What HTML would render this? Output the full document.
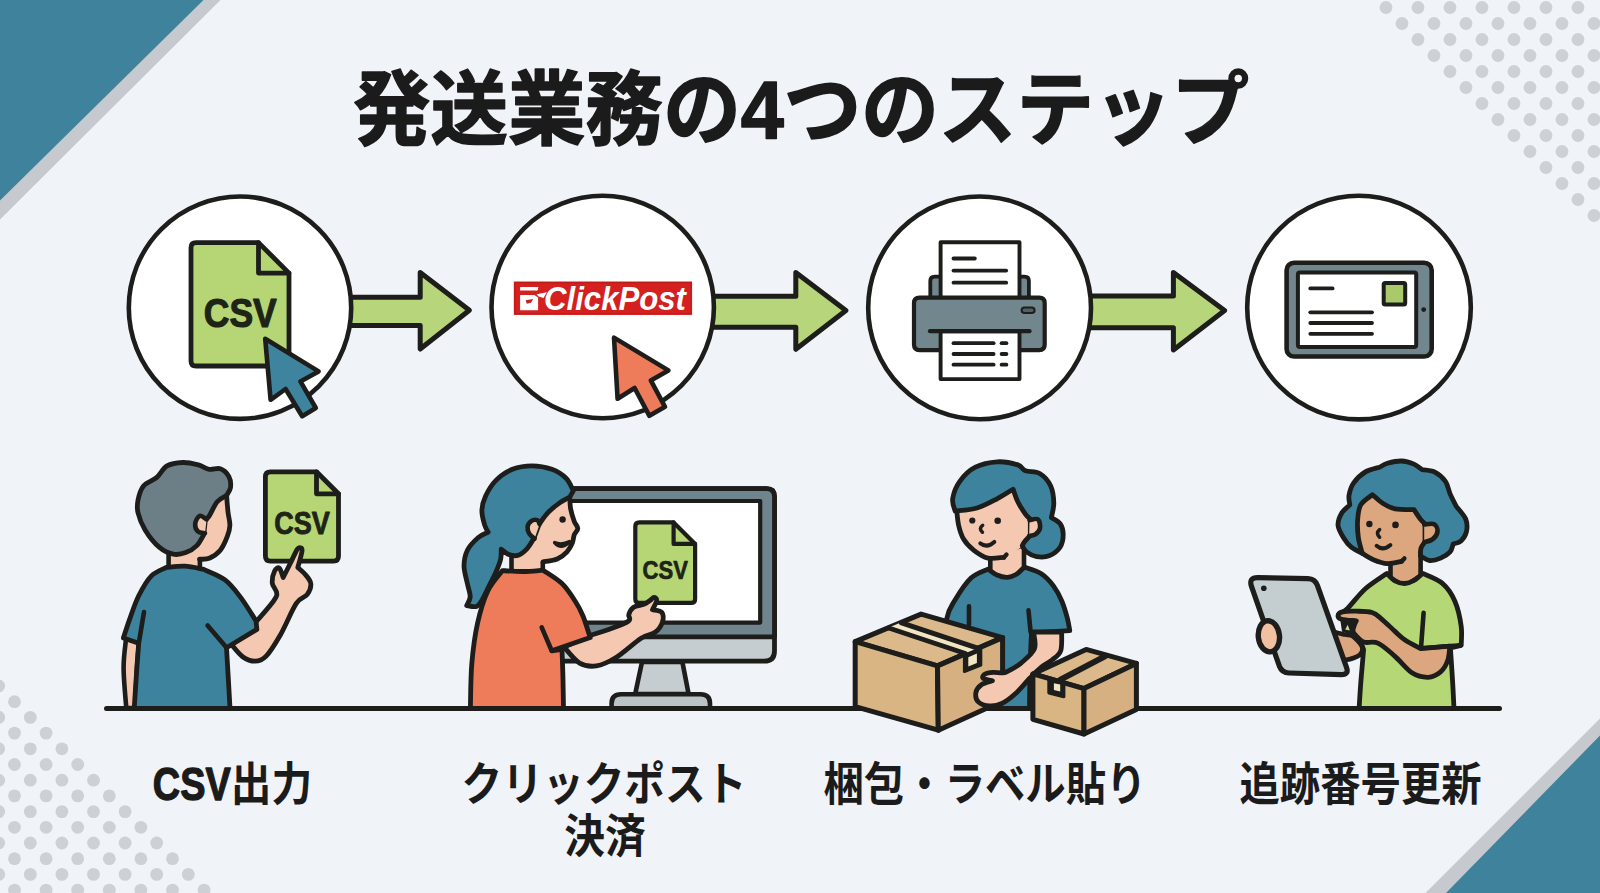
<!DOCTYPE html>
<html lang="ja">
<head>
<meta charset="utf-8">
<title>発送業務の4つのステップ</title>
<style>
html,body{margin:0;padding:0;width:1600px;height:893px;overflow:hidden;background:#f0f3f8}
svg{display:block}
.ttl{font-family:"Liberation Sans","Noto Sans CJK JP",sans-serif;font-weight:700}
.lbl{font-family:"Liberation Sans","Noto Sans CJK JP",sans-serif;font-weight:700}
.csv{font-family:"Liberation Sans","Noto Sans CJK JP",sans-serif;font-weight:700}
.cp{font-family:"Liberation Sans","Noto Sans CJK JP",sans-serif;font-weight:700;font-style:italic}
</style>
</head>
<body>
<svg width="1600" height="893" viewBox="0 0 1600 893">
<rect x="0" y="0" width="1600" height="893" fill="#f0f3f8"/>
<g id="corners"><polygon points="0,0 220.5,0 0,219.5" fill="#c6c9cd"/><polygon points="0,0 203.5,0 0,200.5" fill="#3f829c"/><polygon points="1600,893 1425.5,893 1600,718.5" fill="#c6c9cd"/><polygon points="1600,893 1446,893 1600,735.5" fill="#3f829c"/></g>
<g id="dots-tr" fill="#cdd1d5"><circle cx="1386.0" cy="7.5" r="6.4"/><circle cx="1418.0" cy="7.5" r="6.4"/><circle cx="1450.0" cy="7.5" r="6.4"/><circle cx="1482.0" cy="7.5" r="6.4"/><circle cx="1514.0" cy="7.5" r="6.4"/><circle cx="1546.0" cy="7.5" r="6.4"/><circle cx="1578.0" cy="7.5" r="6.4"/><circle cx="1402.0" cy="23.5" r="6.4"/><circle cx="1434.0" cy="23.5" r="6.4"/><circle cx="1466.0" cy="23.5" r="6.4"/><circle cx="1498.0" cy="23.5" r="6.4"/><circle cx="1530.0" cy="23.5" r="6.4"/><circle cx="1562.0" cy="23.5" r="6.4"/><circle cx="1594.0" cy="23.5" r="6.4"/><circle cx="1418.0" cy="39.5" r="6.4"/><circle cx="1450.0" cy="39.5" r="6.4"/><circle cx="1482.0" cy="39.5" r="6.4"/><circle cx="1514.0" cy="39.5" r="6.4"/><circle cx="1546.0" cy="39.5" r="6.4"/><circle cx="1578.0" cy="39.5" r="6.4"/><circle cx="1434.0" cy="55.5" r="6.4"/><circle cx="1466.0" cy="55.5" r="6.4"/><circle cx="1498.0" cy="55.5" r="6.4"/><circle cx="1530.0" cy="55.5" r="6.4"/><circle cx="1562.0" cy="55.5" r="6.4"/><circle cx="1594.0" cy="55.5" r="6.4"/><circle cx="1450.0" cy="71.5" r="6.4"/><circle cx="1482.0" cy="71.5" r="6.4"/><circle cx="1514.0" cy="71.5" r="6.4"/><circle cx="1546.0" cy="71.5" r="6.4"/><circle cx="1578.0" cy="71.5" r="6.4"/><circle cx="1466.0" cy="87.5" r="6.4"/><circle cx="1498.0" cy="87.5" r="6.4"/><circle cx="1530.0" cy="87.5" r="6.4"/><circle cx="1562.0" cy="87.5" r="6.4"/><circle cx="1594.0" cy="87.5" r="6.4"/><circle cx="1482.0" cy="103.5" r="6.4"/><circle cx="1514.0" cy="103.5" r="6.4"/><circle cx="1546.0" cy="103.5" r="6.4"/><circle cx="1578.0" cy="103.5" r="6.4"/><circle cx="1498.0" cy="119.5" r="6.4"/><circle cx="1530.0" cy="119.5" r="6.4"/><circle cx="1562.0" cy="119.5" r="6.4"/><circle cx="1594.0" cy="119.5" r="6.4"/><circle cx="1514.0" cy="135.5" r="6.4"/><circle cx="1546.0" cy="135.5" r="6.4"/><circle cx="1578.0" cy="135.5" r="6.4"/><circle cx="1530.0" cy="151.5" r="6.4"/><circle cx="1562.0" cy="151.5" r="6.4"/><circle cx="1594.0" cy="151.5" r="6.4"/><circle cx="1546.0" cy="167.5" r="6.4"/><circle cx="1578.0" cy="167.5" r="6.4"/><circle cx="1562.0" cy="183.5" r="6.4"/><circle cx="1594.0" cy="183.5" r="6.4"/><circle cx="1578.0" cy="199.5" r="6.4"/><circle cx="1594.0" cy="215.5" r="6.4"/></g>
<g id="dots-bl" fill="#cdd1d5"><circle cx="-1.3" cy="686.0" r="6.4"/><circle cx="14.5" cy="701.7" r="6.4"/><circle cx="30.3" cy="717.4" r="6.4"/><circle cx="-1.3" cy="717.4" r="6.4"/><circle cx="46.1" cy="733.1" r="6.4"/><circle cx="14.5" cy="733.1" r="6.4"/><circle cx="61.9" cy="748.8" r="6.4"/><circle cx="30.3" cy="748.8" r="6.4"/><circle cx="-1.3" cy="748.8" r="6.4"/><circle cx="77.7" cy="764.5" r="6.4"/><circle cx="46.1" cy="764.5" r="6.4"/><circle cx="14.5" cy="764.5" r="6.4"/><circle cx="93.5" cy="780.2" r="6.4"/><circle cx="61.9" cy="780.2" r="6.4"/><circle cx="30.3" cy="780.2" r="6.4"/><circle cx="-1.3" cy="780.2" r="6.4"/><circle cx="109.3" cy="795.9" r="6.4"/><circle cx="77.7" cy="795.9" r="6.4"/><circle cx="46.1" cy="795.9" r="6.4"/><circle cx="14.5" cy="795.9" r="6.4"/><circle cx="125.1" cy="811.6" r="6.4"/><circle cx="93.5" cy="811.6" r="6.4"/><circle cx="61.9" cy="811.6" r="6.4"/><circle cx="30.3" cy="811.6" r="6.4"/><circle cx="-1.3" cy="811.6" r="6.4"/><circle cx="140.9" cy="827.3" r="6.4"/><circle cx="109.3" cy="827.3" r="6.4"/><circle cx="77.7" cy="827.3" r="6.4"/><circle cx="46.1" cy="827.3" r="6.4"/><circle cx="14.5" cy="827.3" r="6.4"/><circle cx="156.7" cy="843.0" r="6.4"/><circle cx="125.1" cy="843.0" r="6.4"/><circle cx="93.5" cy="843.0" r="6.4"/><circle cx="61.9" cy="843.0" r="6.4"/><circle cx="30.3" cy="843.0" r="6.4"/><circle cx="-1.3" cy="843.0" r="6.4"/><circle cx="172.5" cy="858.7" r="6.4"/><circle cx="140.9" cy="858.7" r="6.4"/><circle cx="109.3" cy="858.7" r="6.4"/><circle cx="77.7" cy="858.7" r="6.4"/><circle cx="46.1" cy="858.7" r="6.4"/><circle cx="14.5" cy="858.7" r="6.4"/><circle cx="188.3" cy="874.4" r="6.4"/><circle cx="156.7" cy="874.4" r="6.4"/><circle cx="125.1" cy="874.4" r="6.4"/><circle cx="93.5" cy="874.4" r="6.4"/><circle cx="61.9" cy="874.4" r="6.4"/><circle cx="30.3" cy="874.4" r="6.4"/><circle cx="-1.3" cy="874.4" r="6.4"/><circle cx="204.1" cy="890.1" r="6.4"/><circle cx="172.5" cy="890.1" r="6.4"/><circle cx="140.9" cy="890.1" r="6.4"/><circle cx="109.3" cy="890.1" r="6.4"/><circle cx="77.7" cy="890.1" r="6.4"/><circle cx="46.1" cy="890.1" r="6.4"/><circle cx="14.5" cy="890.1" r="6.4"/></g>
<text id="title" class="ttl" x="353" y="137.5" font-size="81" fill="#1b1b1b" stroke="#1b1b1b" stroke-width="1.5" stroke-linejoin="round" textLength="896" lengthAdjust="spacingAndGlyphs">発送業務の4つのステップ</text>
<g id="arrows">
<path d="M345,297.2 H420.2 V272.6 L469.4,310.3 L420.2,349 V325.5 H345 Z" fill="#b7d57a" stroke="#1d1d1b" stroke-width="5" stroke-linejoin="round" stroke-linecap="round" />
<path d="M708,296.2 H795.8 V272.4 L845.9,310.5 L795.8,349.3 V327.2 H708 Z" fill="#b7d57a" stroke="#1d1d1b" stroke-width="5" stroke-linejoin="round" stroke-linecap="round" />
<path d="M1086,296 H1173.4 V272.4 L1224.6,310.5 L1173.4,349.9 V327.7 H1086 Z" fill="#b7d57a" stroke="#1d1d1b" stroke-width="5" stroke-linejoin="round" stroke-linecap="round" />
</g>
<g id="circles" fill="#ffffff" stroke="#1d1d1b" stroke-width="4.6"><circle cx="240" cy="307.7" r="111.2"/><circle cx="602.7" cy="307" r="111.2"/><circle cx="979.6" cy="307.9" r="111.4"/><circle cx="1359" cy="307.6" r="111.8"/></g>
<g id="icon1">
<path d="M196,242.6 H258.5 L289,273.1 V361 Q289,366 284,366 H196 Q191,366 191,361 V247.6 Q191,242.6 196,242.6 Z" fill="#b6d675" stroke="#1d1d1b" stroke-width="4.8" stroke-linejoin="round" stroke-linecap="round" />
<path d="M258.5,242.6 V273.1 H289" fill="none" stroke="#1d1d1b" stroke-width="4.8" stroke-linejoin="round" stroke-linecap="round" />
<text class="csv" x="203.8" y="327" font-size="41.5"  fill="#1e2416" stroke="#1e2416" stroke-width="1.16" stroke-linejoin="round" textLength="73" lengthAdjust="spacingAndGlyphs">CSV</text>
<path d="M265.2,338.8 L270.6,399.8 L285.6,389 L302.2,416.2 L315.8,408 L300.4,381.4 L318.6,371.4 Z" fill="#3e849f" stroke="#1d1d1b" stroke-width="4.6" stroke-linejoin="round" stroke-linecap="round" />
</g>
<g id="icon2">
<rect x="513.8" y="281.5" width="178.3" height="33.4" fill="#d4201f"/>
<rect x="515" y="282.7" width="175.9" height="31" fill="none" stroke="#c01a1a" stroke-width="1.2"/>
<g fill="#ffffff"><path d="M520.1,287 H538.4 L537.6,290.6 H520.1 Z"/><path d="M520.1,295.1 H534.4 L538.1,297.6 V310.3 H520.1 Z"/><path d="M536.6,294.3 L546.8,292.2 L543.6,298 L538.6,296.6 Z"/></g>
<path d="M525.6,300.2 L533.2,299 L531,302.8 L526.8,303.8 Z" fill="#c4231e"/>
<text class="cp" x="544" y="310.4" font-size="32.5" fill="#ffffff" textLength="142" lengthAdjust="spacingAndGlyphs">ClickPost</text>
<path d="M614,337.6 L617.6,398.8 L634.6,388 L649.4,415.8 L665,406.8 L650.8,380.4 L668.4,370.4 Z" fill="#ee7b5a" stroke="#1d1d1b" stroke-width="4.6" stroke-linejoin="round" stroke-linecap="round" />
</g>
<g id="icon3">
<path d="M930.3,298 V281 Q930.3,276.6 934.7,276.6 H1024.5 Q1028.9,276.6 1028.9,281 V298 Z" fill="#72868e" stroke="#1d1d1b" stroke-width="3.8" stroke-linejoin="round" stroke-linecap="round" />
<path d="M940.6,298 V242.3 H1019.5 V298 Z" fill="#ffffff" stroke="#1d1d1b" stroke-width="3.9" stroke-linejoin="round" stroke-linecap="round" />
<path d="M953.5,258.5 L974.8,258.5" fill="none" stroke="#1d1d1b" stroke-width="3.8" stroke-linecap="round"/>
<path d="M953.5,270.6 L1006.2,270.6" fill="none" stroke="#1d1d1b" stroke-width="3.8" stroke-linecap="round"/>
<path d="M953.5,282.7 L1006.2,282.7" fill="none" stroke="#1d1d1b" stroke-width="3.8" stroke-linecap="round"/>
<path d="M919.5,297.6 H1039.2 Q1044.7,297.6 1044.7,303.1 V344.6 Q1044.7,350.1 1039.2,350.1 H919.5 Q914,350.1 914,344.6 V303.1 Q914,297.6 919.5,297.6 Z" fill="#72868e" stroke="#1d1d1b" stroke-width="4.2" stroke-linejoin="round" stroke-linecap="round" />
<path d="M940.6,331.2 V379.1 H1019.5 V331.2 Z" fill="#ffffff" stroke="#1d1d1b" stroke-width="3.9" stroke-linejoin="round" stroke-linecap="round" />
<path d="M930,331.2 L1029.5,331.2" fill="none" stroke="#1d1d1b" stroke-width="4.2" stroke-linecap="round"/>
<rect x="1021.6" y="307.4" width="13" height="5.6" rx="2.8" fill="#4f6168" stroke="#1d1d1b" stroke-width="2"/>
<path d="M953.5,343.2 L993.6,343.2" fill="none" stroke="#1d1d1b" stroke-width="3.8" stroke-linecap="round"/>
<path d="M1001.6,343.2 L1006.4,343.2" fill="none" stroke="#1d1d1b" stroke-width="3.8" stroke-linecap="round"/>
<path d="M953.5,354 L993.6,354" fill="none" stroke="#1d1d1b" stroke-width="3.8" stroke-linecap="round"/>
<path d="M1001.6,354 L1006.4,354" fill="none" stroke="#1d1d1b" stroke-width="3.8" stroke-linecap="round"/>
<path d="M953.5,364.7 L993.6,364.7" fill="none" stroke="#1d1d1b" stroke-width="3.8" stroke-linecap="round"/>
<path d="M1001.6,364.7 L1006.4,364.7" fill="none" stroke="#1d1d1b" stroke-width="3.8" stroke-linecap="round"/>
</g>
<g id="icon4">
<rect x="1286.6" y="262.7" width="145.1" height="93.8" rx="7.5" fill="#72868e" stroke="#1d1d1b" stroke-width="4.6"/>
<rect x="1297.9" y="272.6" width="118.3" height="74.5" rx="2" fill="#ffffff" stroke="#1d1d1b" stroke-width="4"/>
<circle cx="1423.7" cy="309.6" r="2.4" fill="#1d1d1b"/>
<rect x="1383.7" y="282.9" width="21.5" height="21.5" rx="1.5" fill="#a9c96b" stroke="#1d1d1b" stroke-width="4"/>
<path d="M1310.3,288.4 L1332.6,288.4" fill="none" stroke="#1d1d1b" stroke-width="3.8" stroke-linecap="round"/>
<path d="M1310.3,312.3 L1372,312.3" fill="none" stroke="#1d1d1b" stroke-width="3.8" stroke-linecap="round"/>
<path d="M1310.3,323 L1372,323" fill="none" stroke="#1d1d1b" stroke-width="3.8" stroke-linecap="round"/>
<path d="M1310.3,333.8 L1372,333.8" fill="none" stroke="#1d1d1b" stroke-width="3.8" stroke-linecap="round"/>
</g>
<g id="scene1">
<path d="M270.4,471.8 H316.5 L338.5,493.8 V556.1 Q338.5,561.1 333.5,561.1 H270.4 Q265.4,561.1 265.4,556.1 V476.8 Q265.4,471.8 270.4,471.8 Z" fill="#b6d675" stroke="#1d1d1b" stroke-width="4.8" stroke-linejoin="round" stroke-linecap="round" />
<path d="M316.5,471.8 V493.8 H338.5" fill="none" stroke="#1d1d1b" stroke-width="4.8" stroke-linejoin="round" stroke-linecap="round" />
<text class="csv" x="274.2" y="534.4" font-size="31.2"  fill="#1e2416" stroke="#1e2416" stroke-width="0.87" stroke-linejoin="round" textLength="55.6" lengthAdjust="spacingAndGlyphs">CSV</text>
<path d="M126.0,639.0 C125.6,643.8 123.5,656.5 123.6,668.0 C123.6,679.5 125.8,701.3 126.3,708.0 L135.0,708.0 C135.3,701.3 136.3,679.0 137.0,668.0 C137.7,657.0 138.7,646.3 139.0,642.0 L126.0,639.0 Z" fill="#f5c9b1" stroke="#1d1d1b" stroke-width="4.6" stroke-linejoin="round" stroke-linecap="round" />
<path d="M250.0,628.0 C252.0,625.8 257.6,620.4 262.0,615.0 C266.4,609.6 274.9,601.1 276.6,595.8 C278.3,590.5 272.6,587.4 272.3,583.3 C272.0,579.2 273.4,573.5 274.6,571.0 C275.8,568.5 277.9,567.1 279.3,568.2 C280.7,569.3 282.6,575.9 283.2,577.4 C284.4,575.0 288.2,567.7 290.5,563.0 C292.8,558.3 295.6,551.9 297.2,549.4 C298.8,546.9 299.4,547.5 300.2,547.8 C301.0,548.1 302.4,547.9 302.0,551.2 C301.6,554.5 298.5,564.8 297.8,567.5 C299.1,568.7 303.1,571.8 305.3,574.5 C307.5,577.2 310.5,580.3 310.8,583.6 C311.1,586.9 309.7,591.1 307.3,594.4 C304.9,597.7 300.8,596.6 296.3,603.4 C291.8,610.2 285.3,626.4 280.2,635.2 C275.1,644.0 270.1,652.1 265.9,656.4 C261.7,660.7 259.0,661.2 255.1,661.2 C251.2,661.2 246.6,659.6 242.6,656.7 C238.6,653.8 232.9,646.1 231.0,644.0 L250.0,628.0 Z" fill="#f5c9b1" stroke="#1d1d1b" stroke-width="4.8" stroke-linejoin="round" stroke-linecap="round" />
<path d="M168.6,545 V571 H199.9 V545 Z" fill="#f5c9b1" stroke="#1d1d1b" stroke-width="4.6" stroke-linejoin="round" stroke-linecap="round" />
<path d="M166.4,567.4 C163.9,568.9 155.8,571.4 151.2,576.1 C146.6,580.8 142.3,588.6 138.7,595.8 C135.1,603.0 132.2,612.1 129.7,619.1 C127.1,626.1 124.5,634.8 123.4,637.9 L138.7,643.3 C138.4,647.3 137.7,656.6 136.9,667.5 C136.2,678.4 134.6,701.7 134.2,708.5 L230.0,708.5 C229.7,703.2 228.8,686.6 228.2,676.5 C227.6,666.4 226.8,652.6 226.5,647.8 L256.9,629.4 L256.0,620.9 C253.5,617.0 246.0,604.5 240.8,597.6 C235.6,590.7 231.0,584.4 224.7,579.7 C218.4,575.0 206.8,571.0 203.2,569.2 C200.2,568.7 191.1,566.5 185.0,566.2 C178.9,565.9 169.5,567.2 166.4,567.4 Z" fill="#3e839e" stroke="#1d1d1b" stroke-width="4.8" stroke-linejoin="round" stroke-linecap="round" />
<path d="M144,612 L138.9,642.6" fill="none" stroke="#1d1d1b" stroke-width="4.6" stroke-linecap="round"/>
<path d="M207.6,625.4 L226,647" fill="none" stroke="#1d1d1b" stroke-width="4.6" stroke-linecap="round"/>
<path d="M226.6,495.4 C226.8,498.3 227.5,507.7 228.1,512.7 C228.7,517.7 230.0,521.3 229.9,525.2 C229.8,529.1 229.0,532.0 227.4,536.2 C225.8,540.4 223.3,546.6 220.3,550.3 C217.3,554.0 213.0,556.8 209.3,558.3 C205.6,559.8 199.9,559.1 198.0,559.2 C196.7,556.8 189.7,553.2 190.0,545.0 C190.3,536.8 193.9,518.3 200.0,510.0 C206.1,501.7 222.2,497.8 226.6,495.4 Z" fill="#f5c9b1" stroke="none" stroke-width="0" stroke-linejoin="round" stroke-linecap="round" />
<path d="M226.6,495.4 C226.8,498.3 227.5,507.7 228.1,512.7 C228.7,517.7 230.0,521.3 229.9,525.2 C229.8,529.1 229.0,532.0 227.4,536.2 C225.8,540.4 223.3,546.6 220.3,550.3 C217.3,554.0 212.8,556.8 209.3,558.3 C205.8,559.8 201.1,559.1 199.5,559.2" fill="none" stroke="#1d1d1b" stroke-width="4.8" stroke-linejoin="round" stroke-linecap="round" />
<path d="M226.6,495.4 C225.0,496.4 220.1,498.3 217.2,501.7 C214.3,505.1 211.3,512.8 209.3,515.8 C207.3,518.8 206.1,518.8 205.4,519.4 L203.8,534.6 C202.6,536.4 199.8,542.6 196.8,545.6 C193.8,548.6 189.7,551.2 185.8,552.6 C181.9,554.0 177.7,555.1 173.3,554.2 C168.9,553.3 163.9,551.2 159.2,547.2 C154.5,543.2 148.6,535.6 145.1,529.9 C141.6,524.1 139.2,517.7 138.0,512.7 C136.8,507.7 137.1,504.6 138.0,500.1 C138.9,495.7 140.4,489.8 143.5,486.0 C146.6,482.2 152.9,480.8 156.8,477.4 C160.7,474.0 162.7,468.4 167.0,465.9 C171.3,463.4 177.5,462.7 182.7,462.5 C187.9,462.3 194.0,463.8 198.4,464.9 C202.8,466.0 205.7,468.8 209.3,469.4 C213.0,470.0 217.0,467.6 220.3,468.8 C223.6,470.0 227.2,473.5 228.9,476.6 C230.6,479.7 230.9,484.5 230.5,487.6 C230.1,490.7 227.2,494.1 226.6,495.4 Z" fill="#6c7e86" stroke="#1d1d1b" stroke-width="4.8" stroke-linejoin="round" stroke-linecap="round" />
<path d="M206.6,519.4 C205.4,518.8 201.5,515.1 199.6,515.8 C197.7,516.5 195.5,521.1 195.2,523.7 C194.9,526.3 196.2,529.8 197.8,531.4 C199.4,533.0 203.8,532.9 205.0,533.2" fill="#f5c9b1" stroke="#1d1d1b" stroke-width="4.6" stroke-linejoin="round" stroke-linecap="round" />
</g>
<g id="scene2">
<path d="M642,662 L635.2,694 H688.6 L682.4,662 Z" fill="#c5cdd0" stroke="#1d1d1b" stroke-width="4.6" stroke-linejoin="round" stroke-linecap="round" />
<path d="M611.6,708.5 V703.6 Q611.6,694.2 621,694.2 H700.6 Q710,694.2 710,703.6 V708.5 Z" fill="#bac3c6" stroke="#1d1d1b" stroke-width="4.6" stroke-linejoin="round" stroke-linecap="round" />
<path d="M535,488.6 H766.5 Q774.5,488.6 774.5,496.6 V651 Q774.5,661.2 764.3,661.2 H535 Z" fill="#c5cdd0" stroke="#1d1d1b" stroke-width="4.8" stroke-linejoin="round" stroke-linecap="round" />
<path d="M535,488.6 H766.5 Q774.5,488.6 774.5,496.6 V636.8 H535 Z" fill="#6f848c" stroke="#1d1d1b" stroke-width="4.8" stroke-linejoin="round" stroke-linecap="round" />
<path d="M535,501 H760.2 V622.6 H535 Z" fill="#ffffff" stroke="#1d1d1b" stroke-width="4.2" stroke-linejoin="round" stroke-linecap="round" />
<path d="M639.3,522.4 H673.6 L695.1,543.9 V598.9 Q695.1,602.9 691.1,602.9 H639.3 Q635.3,602.9 635.3,598.9 V526.4 Q635.3,522.4 639.3,522.4 Z" fill="#b6d675" stroke="#1d1d1b" stroke-width="4.2" stroke-linejoin="round" stroke-linecap="round" />
<path d="M673.6,522.4 V543.9 H695.1" fill="none" stroke="#1d1d1b" stroke-width="4.2" stroke-linejoin="round" stroke-linecap="round" />
<text class="csv" x="642.5" y="579.3" font-size="25.4"  fill="#1e2416" stroke="#1e2416" stroke-width="0.71" stroke-linejoin="round" textLength="45.4" lengthAdjust="spacingAndGlyphs">CSV</text>
<path d="M588.0,636.0 C591.7,634.8 603.2,631.5 610.0,629.0 C616.8,626.5 625.5,623.4 628.6,621.0 C631.7,618.6 628.0,616.8 628.8,614.5 C629.6,612.2 631.1,609.0 633.6,607.3 C636.1,605.6 641.2,605.4 643.9,604.3 C646.6,603.2 648.3,601.7 650.0,600.5 C651.7,599.3 652.8,597.3 653.9,597.3 C655.0,597.3 656.9,598.4 656.7,600.5 C656.5,602.6 653.2,608.2 652.5,609.7 C654.1,610.2 660.3,610.4 661.9,612.5 C663.5,614.6 663.4,619.2 662.3,622.5 C661.2,625.8 658.6,629.7 655.1,632.3 C651.6,634.9 647.6,634.0 641.1,638.2 C634.6,642.4 623.5,652.9 616.0,657.5 C608.5,662.1 602.5,665.0 596.4,665.9 C590.3,666.8 585.0,666.2 579.6,663.1 C574.2,660.0 566.6,649.7 564.0,647.0 L588.0,636.0 Z" fill="#f5c9b1" stroke="#1d1d1b" stroke-width="4.8" stroke-linejoin="round" stroke-linecap="round" />
<path d="M511.5,548 V573 H542.8 V548 Z" fill="#f5c9b1" stroke="#1d1d1b" stroke-width="4.6" stroke-linejoin="round" stroke-linecap="round" />
<path d="M502.4,570.6 C500.0,574.0 491.9,582.2 487.8,590.9 C483.7,599.6 480.3,610.8 477.6,622.9 C474.9,635.0 473.0,649.4 471.8,663.7 C470.6,678.0 470.6,701.0 470.4,708.5 L563.5,708.5 C563.4,703.8 563.2,689.9 563.0,680.0 C562.8,670.1 562.2,654.4 562.0,649.3 L551.8,650.8 L590.2,637.6 C589.0,634.0 585.5,622.1 583.0,616.0 C580.5,609.9 578.6,606.4 575.1,601.0 C571.6,595.6 567.3,588.6 562.0,583.5 C556.7,578.4 546.2,572.4 543.1,570.2 C539.8,570.4 529.8,571.4 523.0,571.5 C516.2,571.6 505.8,570.8 502.4,570.6 Z" fill="#ee7b5a" stroke="#1d1d1b" stroke-width="4.8" stroke-linejoin="round" stroke-linecap="round" />
<path d="M541.7,627.3 L551.4,650" fill="none" stroke="#1d1d1b" stroke-width="4.6" stroke-linecap="round"/>
<path d="M569.7,497.1 C569.9,499.1 569.9,504.8 570.6,508.8 C571.4,512.8 573.0,518.0 574.2,521.3 C575.4,524.6 577.8,526.2 577.8,528.5 C577.8,530.8 575.1,532.4 574.2,534.8 C573.3,537.2 573.6,540.0 572.4,542.8 C571.2,545.6 569.5,549.1 567.0,551.8 C564.5,554.5 560.9,557.3 557.2,559.0 C553.5,560.7 546.7,561.4 544.6,561.9 L520.0,561.0 L520.0,535.0 C523.3,530.0 531.7,511.3 540.0,505.0 C548.3,498.7 564.8,498.4 569.7,497.1 Z" fill="#f5c9b1" stroke="none" stroke-width="0" stroke-linejoin="round" stroke-linecap="round" />
<path d="M569.7,497.1 C569.9,499.1 569.9,504.8 570.6,508.8 C571.4,512.8 573.0,518.0 574.2,521.3 C575.4,524.6 577.8,526.2 577.8,528.5 C577.8,530.8 575.1,532.4 574.2,534.8 C573.3,537.2 573.6,540.0 572.4,542.8 C571.2,545.6 569.5,549.1 567.0,551.8 C564.5,554.5 561.2,557.3 557.2,559.0 C553.2,560.7 545.4,561.4 543.0,561.9" fill="none" stroke="#1d1d1b" stroke-width="4.8" stroke-linejoin="round" stroke-linecap="round" />
<circle cx="562.6" cy="519.5" r="3.2" fill="#1d1d1b"/>
<path d="M554.6,542.6 Q561.4,550.6 569.6,541.6 Q561.6,545.6 554.6,542.6 Z" fill="#1d1d1b" stroke="#1d1d1b" stroke-width="3.4" stroke-linejoin="round" stroke-linecap="round" />
<path d="M573.3,490.9 C572.1,488.8 569.7,481.9 566.1,478.3 C562.5,474.7 557.5,471.4 551.8,469.3 C546.1,467.2 538.7,465.8 532.1,465.8 C525.5,465.8 518.4,466.9 512.4,469.3 C506.4,471.7 500.7,475.6 496.2,480.1 C491.7,484.6 487.9,491.1 485.5,496.2 C483.1,501.3 482.0,505.8 481.9,510.6 C481.8,515.4 483.6,521.3 484.6,524.9 C485.7,528.5 487.6,530.9 488.2,532.1 C486.6,533.0 481.8,534.5 478.3,537.5 C474.9,540.5 469.9,545.2 467.5,550.0 C465.1,554.8 464.0,560.4 464.0,566.1 C464.0,571.8 466.5,579.0 467.5,584.1 C468.5,589.2 470.3,593.0 470.2,596.6 C470.1,600.2 467.3,604.1 466.7,605.6 C468.3,605.8 474.0,607.4 476.5,606.5 C479.0,605.6 479.8,603.6 481.9,600.2 C484.0,596.8 486.7,590.7 489.1,585.9 C491.5,581.1 494.3,576.0 496.2,571.5 C498.1,567.0 499.9,562.7 500.7,559.0 C501.5,555.3 501.1,550.8 501.2,549.1 C502.5,550.0 506.1,553.5 508.8,554.5 C511.6,555.5 514.7,556.3 517.7,555.4 C520.7,554.5 524.0,551.9 526.7,549.1 C529.4,546.3 532.7,540.2 533.9,538.4 L539.2,524.0 C540.7,522.1 544.9,515.8 548.2,512.4 C551.5,509.0 555.4,505.9 559.0,503.4 C562.6,500.8 567.9,498.2 569.7,497.1 L573.3,490.9 Z" fill="#3e839e" stroke="#1d1d1b" stroke-width="4.8" stroke-linejoin="round" stroke-linecap="round" />
<path d="M539.6,524.2 C539.2,523.5 538.7,520.7 537.3,520.2 C535.9,519.7 532.8,520.0 531.2,521.1 C529.6,522.2 527.9,524.6 527.6,526.7 C527.3,528.8 528.2,531.9 529.4,533.9 C530.6,535.9 533.7,537.8 534.6,538.6" fill="#f5c9b1" stroke="#1d1d1b" stroke-width="4.6" stroke-linejoin="round" stroke-linecap="round" />
</g>
<g id="scene3">
<path d="M990.3,556 V574 L1007,580 L1024,572 V545 Z" fill="#f5c9b1" stroke="#1d1d1b" stroke-width="4.6" stroke-linejoin="round" stroke-linecap="round" />
<path d="M988.1,569.1 C985.2,570.6 976.5,572.9 971.0,578.1 C965.5,583.3 958.9,593.6 954.9,600.3 C950.9,607.0 948.8,608.5 946.8,618.5 C944.8,628.5 943.8,645.0 943.0,660.0 C942.2,675.0 942.2,700.4 942.0,708.5 L1029.5,708.5 C1029.6,702.1 1029.7,682.6 1030.0,670.0 C1030.3,657.4 1031.2,639.0 1031.5,632.8 L1069.8,630.7 C1069.4,628.7 1068.7,623.3 1067.4,618.4 C1066.1,613.5 1064.2,606.6 1061.9,601.2 C1059.6,595.8 1057.0,590.7 1053.6,586.1 C1050.2,581.5 1046.2,576.9 1041.3,573.7 C1036.4,570.5 1027.2,568.2 1024.4,567.1 C1023.0,568.3 1018.9,572.8 1016.0,574.5 C1013.1,576.2 1010.5,577.2 1007.3,577.3 C1004.1,577.4 1000.2,576.4 997.0,575.0 C993.8,573.6 989.6,570.1 988.1,569.1 Z" fill="#3e839e" stroke="#1d1d1b" stroke-width="4.8" stroke-linejoin="round" stroke-linecap="round" />
<path d="M969,606.4 L969,624.5" fill="none" stroke="#1d1d1b" stroke-width="4.6" stroke-linecap="round"/>
<path d="M1028.5,610.4 L1030.6,632" fill="none" stroke="#1d1d1b" stroke-width="4.6" stroke-linecap="round"/>
<path d="M956.5,508.0 C956.9,510.9 957.4,520.0 958.6,525.2 C959.8,530.4 961.2,535.1 963.7,539.3 C966.2,543.5 969.9,547.2 973.9,550.3 C977.9,553.4 983.0,556.9 988.0,558.1 C993.0,559.3 1001.1,557.4 1003.7,557.3 C1005.1,556.6 1009.1,554.7 1012.0,553.0 C1014.9,551.3 1018.9,549.0 1020.9,547.2 C1022.9,545.5 1022.3,544.4 1024.0,542.5 C1025.7,540.6 1029.8,537.1 1031.0,536.0 C1030.8,532.5 1033.0,522.8 1030.0,515.0 C1027.0,507.2 1020.5,492.3 1013.0,489.0 C1005.5,485.7 994.4,491.8 985.0,495.0 C975.6,498.2 961.2,505.8 956.5,508.0 Z" fill="#f5c9b1" stroke="none" stroke-width="0" stroke-linejoin="round" stroke-linecap="round" />
<path d="M956.5,508.0 C956.9,510.9 957.4,520.0 958.6,525.2 C959.8,530.4 961.2,535.1 963.7,539.3 C966.2,543.5 969.9,547.2 973.9,550.3 C977.9,553.4 983.0,556.9 988.0,558.1 C993.0,559.3 1001.1,557.4 1003.7,557.3" fill="none" stroke="#1d1d1b" stroke-width="4.8" stroke-linejoin="round" stroke-linecap="round" />
<path d="M1003.9,557.4 L1006.5,554.6" fill="none" stroke="#1d1d1b" stroke-width="4.4" stroke-linecap="round"/>
<circle cx="972.3" cy="520.5" r="3.1" fill="#1d1d1b"/><circle cx="997.7" cy="520.8" r="3.3" fill="#1d1d1b"/>
<path d="M982.6,525.4 Q978.4,528.4 982.4,532.2" fill="none" stroke="#1d1d1b" stroke-width="3.6" stroke-linejoin="round" stroke-linecap="round" />
<path d="M980.3,543.4 Q987.2,548.4 994.3,541.9" fill="none" stroke="#1d1d1b" stroke-width="4" stroke-linejoin="round" stroke-linecap="round" />
<path d="M955.1,511.1 C954.7,509.0 951.9,503.6 952.7,498.6 C953.5,493.6 956.0,486.5 959.8,481.3 C963.6,476.1 969.1,470.4 975.4,467.2 C981.7,463.9 990.3,462.2 997.4,461.8 C1004.5,461.4 1013.1,463.4 1017.8,464.9 C1022.5,466.4 1021.9,469.4 1025.6,470.8 C1029.2,472.2 1035.5,471.0 1039.7,473.5 C1043.9,476.0 1048.4,481.0 1050.7,486.0 C1053.0,491.0 1053.7,498.0 1053.8,503.3 C1053.9,508.6 1051.7,515.2 1051.3,517.6 C1052.8,518.6 1058.1,520.9 1060.1,523.7 C1062.1,526.5 1063.2,530.7 1063.2,534.6 C1063.2,538.5 1062.4,543.7 1060.1,547.2 C1057.8,550.7 1053.0,554.2 1049.1,555.8 C1045.2,557.4 1040.4,557.2 1036.6,556.6 C1032.8,556.0 1028.8,553.7 1026.4,551.9 C1024.0,550.1 1023.0,546.8 1022.3,545.8 C1022.6,545.2 1023.1,543.7 1024.4,542.0 C1025.7,540.3 1029.3,536.5 1030.3,535.4 L1030.3,519.0 C1029.5,518.2 1027.7,517.2 1025.6,514.3 C1023.5,511.4 1019.9,505.9 1017.8,501.7 C1015.7,497.5 1013.9,491.3 1013.1,489.2 C1010.5,490.8 1003.4,495.5 997.4,498.6 C991.4,501.7 984.0,505.9 977.0,508.0 C970.0,510.1 958.8,510.6 955.1,511.1 Z" fill="#3e839e" stroke="#1d1d1b" stroke-width="4.8" stroke-linejoin="round" stroke-linecap="round" />
<path d="M1029.5,520.2 C1030.9,520.1 1036.2,518.0 1037.9,519.3 C1039.7,520.6 1040.4,525.7 1040.0,528.2 C1039.6,530.7 1037.2,533.1 1035.4,534.4 C1033.6,535.7 1030.2,535.7 1029.2,536.0" fill="#f5c9b1" stroke="#1d1d1b" stroke-width="4.6" stroke-linejoin="round" stroke-linecap="round" />
</g>
<g id="scene4">
<path d="M1334.0,632.0 C1335.8,632.4 1341.8,633.9 1345.0,634.6 C1348.2,635.3 1350.2,634.4 1353.0,636.4 C1355.8,638.4 1360.9,643.7 1362.0,646.8 C1363.1,649.9 1362.1,652.7 1359.6,654.9 C1357.1,657.1 1350.3,659.4 1347.0,659.8 C1343.7,660.1 1341.2,657.5 1340.0,657.0 L1334.0,632.0 Z" fill="#dca67e" stroke="#1d1d1b" stroke-width="4.6" stroke-linejoin="round" stroke-linecap="round" />
<path d="M1390.5,562 V578 L1404.6,586 L1420.6,576 V548 Z" fill="#dca67e" stroke="#1d1d1b" stroke-width="4.6" stroke-linejoin="round" stroke-linecap="round" />
<path d="M1386.9,573.4 C1383.3,576.0 1372.0,582.9 1365.4,588.7 C1358.8,594.5 1352.0,604.1 1347.5,608.4 C1343.0,612.7 1340.0,613.5 1338.5,614.5 C1340.8,615.8 1347.8,616.1 1352.0,622.0 C1356.2,627.9 1361.7,645.0 1363.6,649.6 C1363.2,654.7 1361.8,670.2 1361.0,680.0 C1360.2,689.8 1359.4,703.8 1359.1,708.5 L1454.0,708.5 C1453.8,703.8 1453.1,690.1 1452.5,680.0 C1451.9,669.9 1450.8,653.2 1450.4,647.8 L1461.2,645.3 C1461.2,642.1 1462.2,633.6 1461.2,626.3 C1460.2,618.9 1458.0,608.4 1454.9,601.2 C1451.8,594.0 1447.8,587.9 1442.4,583.3 C1437.0,578.7 1426.0,575.0 1422.7,573.4 C1421.2,574.6 1417.0,578.8 1414.0,580.5 C1411.0,582.2 1408.0,583.4 1404.8,583.5 C1401.6,583.6 1398.0,582.7 1395.0,581.0 C1392.0,579.3 1388.2,574.7 1386.9,573.4 Z" fill="#b5d775" stroke="#1d1d1b" stroke-width="4.8" stroke-linejoin="round" stroke-linecap="round" />
<path d="M1420.9,648.7 C1418.2,647.2 1409.3,642.9 1405.0,640.0 C1400.7,637.1 1398.9,634.9 1395.0,631.4 C1391.1,627.9 1385.2,621.9 1381.4,618.8 C1377.6,615.6 1376.2,613.8 1372.0,612.5 C1367.8,611.2 1361.3,611.3 1356.4,611.2 C1351.5,611.1 1345.6,611.1 1342.5,611.8 C1339.4,612.5 1338.2,614.4 1338.0,615.6 C1337.8,616.8 1338.4,618.3 1341.5,619.2 C1344.6,620.1 1353.9,620.5 1356.4,620.8 C1356.1,621.4 1355.2,622.7 1354.6,624.5 C1354.0,626.3 1352.5,629.2 1353.0,631.4 C1353.5,633.6 1356.0,635.8 1357.9,637.6 C1359.8,639.4 1361.1,641.3 1364.5,642.3 C1367.9,643.2 1373.2,640.9 1378.3,643.3 C1383.4,645.6 1389.4,651.5 1395.0,656.4 C1400.6,661.3 1406.4,669.3 1411.9,672.8 C1417.4,676.3 1423.3,677.4 1428.1,677.3 C1432.9,677.1 1437.3,674.7 1440.6,671.9 C1443.9,669.1 1446.3,664.6 1447.8,660.3 C1449.3,656.0 1449.5,648.6 1449.8,646.2 L1420.9,648.7 Z" fill="#dca67e" stroke="#1d1d1b" stroke-width="4.8" stroke-linejoin="round" stroke-linecap="round" />
<path d="M1342,619.6 L1343.6,630.6 L1351.6,632.6 L1354.6,622 Z" fill="#1d1d1b" stroke="#1d1d1b" stroke-width="3.5" stroke-linejoin="round" stroke-linecap="round" />
<path d="M1347.7,624.8 L1345.2,629.6 L1349.8,630.4 Z" fill="#c6da98" stroke="none" stroke-width="0" stroke-linejoin="round" stroke-linecap="round" />
<path d="M1423.6,612.8 L1421,648.2 L1461,645.2" fill="none" stroke="#1d1d1b" stroke-width="4.6" stroke-linejoin="round" stroke-linecap="round" />
<path d="M1362.3,553.4 C1364.1,554.5 1369.1,558.0 1373.3,559.7 C1377.5,561.4 1382.7,563.3 1387.4,563.6 C1392.1,563.9 1399.2,561.7 1401.5,561.3 C1403.2,560.6 1409.0,558.8 1412.0,557.0 C1415.0,555.2 1417.3,552.8 1419.5,550.3 C1421.7,547.8 1424.1,543.1 1425.0,541.7 C1425.2,538.1 1430.2,527.0 1426.0,520.0 C1421.8,513.0 1408.9,504.2 1400.0,500.0 C1391.1,495.8 1379.5,493.0 1372.5,494.7 C1365.5,496.4 1360.5,504.1 1358.0,510.0 C1355.5,515.9 1356.9,522.8 1357.6,530.0 C1358.3,537.2 1361.5,549.5 1362.3,553.4 Z" fill="#dca67e" stroke="none" stroke-width="0" stroke-linejoin="round" stroke-linecap="round" />
<path d="M1362.3,553.4 C1364.1,554.5 1369.1,558.0 1373.3,559.7 C1377.5,561.4 1382.7,563.3 1387.4,563.6 C1392.1,563.9 1399.2,561.7 1401.5,561.3" fill="none" stroke="#1d1d1b" stroke-width="4.8" stroke-linejoin="round" stroke-linecap="round" />
<path d="M1401.7,561.3 L1404.4,558.4" fill="none" stroke="#1d1d1b" stroke-width="4.4" stroke-linecap="round"/>
<circle cx="1369.4" cy="524" r="3.2" fill="#1d1d1b"/><circle cx="1395.5" cy="524.9" r="3.3" fill="#1d1d1b"/>
<path d="M1379.6,529.6 Q1375.4,533 1379.6,537.2" fill="none" stroke="#1d1d1b" stroke-width="3.6" stroke-linejoin="round" stroke-linecap="round" />
<path d="M1376.6,545.8 Q1383,551.4 1390.4,545" fill="none" stroke="#1d1d1b" stroke-width="4" stroke-linejoin="round" stroke-linecap="round" />
<path d="M1362.3,553.4 C1360.6,552.5 1354.1,549.5 1351.3,547.2 C1348.5,544.9 1345.5,541.1 1343.5,537.8 C1341.5,534.5 1338.2,529.0 1338.0,525.2 C1337.8,521.4 1340.1,515.7 1341.9,512.7 C1343.7,509.7 1348.6,506.1 1349.8,504.9 C1349.7,503.5 1348.4,498.7 1349.0,495.4 C1349.6,492.1 1351.2,486.4 1353.7,482.9 C1356.2,479.4 1361.5,474.3 1365.4,471.9 C1369.3,469.5 1377.5,467.9 1379.6,467.2 C1380.8,466.6 1384.1,464.2 1387.4,463.3 C1390.7,462.4 1397.5,460.9 1401.5,461.0 C1405.5,461.1 1410.9,462.8 1414.0,464.1 C1417.1,465.4 1420.7,468.8 1421.9,469.6 C1423.8,469.9 1430.9,470.1 1434.4,471.9 C1437.9,473.7 1443.0,478.0 1445.4,481.3 C1447.8,484.6 1448.5,490.1 1450.1,493.9 C1451.7,497.7 1455.4,504.5 1456.3,506.4 C1457.7,508.3 1464.2,515.2 1465.7,519.0 C1467.2,522.8 1467.2,528.2 1466.5,531.5 C1465.8,534.8 1463.0,539.0 1461.0,540.9 C1459.0,542.8 1454.4,543.5 1453.2,544.0 C1452.7,545.2 1452.0,549.8 1450.1,551.9 C1448.2,554.0 1443.8,556.8 1440.7,558.1 C1437.6,559.4 1432.7,560.8 1429.7,560.5 C1426.7,560.2 1421.9,556.7 1420.5,556.0 C1420.6,554.8 1420.3,550.1 1421.0,548.0 C1421.7,545.9 1424.4,542.6 1425.0,541.7 L1425.0,523.7 C1424.3,523.0 1422.0,521.1 1420.3,519.0 C1418.6,516.9 1414.9,511.0 1414.0,509.6 C1411.2,509.5 1399.9,509.7 1395.2,508.8 C1390.5,507.9 1386.1,505.4 1382.7,503.3 C1379.3,501.2 1374.0,496.0 1372.5,494.7 C1370.7,496.2 1362.9,501.0 1360.7,504.9 C1358.5,508.8 1357.9,515.6 1357.6,520.5 C1357.3,525.4 1357.7,532.9 1358.4,537.8 C1359.1,542.7 1361.7,551.1 1362.3,553.4 Z" fill="#3e839e" stroke="#1d1d1b" stroke-width="4.8" stroke-linejoin="round" stroke-linecap="round" />
<path d="M1424.2,524.4 C1425.9,524.4 1432.0,523.0 1434.2,524.2 C1436.4,525.4 1437.7,529.0 1437.5,531.5 C1437.3,534.0 1435.0,537.3 1432.8,539.1 C1430.6,540.9 1425.6,541.8 1424.2,542.3" fill="#dca67e" stroke="#1d1d1b" stroke-width="4.6" stroke-linejoin="round" stroke-linecap="round" />
<path d="M1258,577.6 L1308,578.6 Q1315,578.8 1317.4,585.4 L1346.6,667.6 Q1349,674.6 1341.6,674.6 L1289,673 Q1282,672.8 1279.4,666.2 L1251.4,586.2 Q1248.6,577.4 1258,577.6 Z" fill="#c4cdd0" stroke="#1d1d1b" stroke-width="5.2" stroke-linejoin="round" stroke-linecap="round" />
<circle cx="1263.8" cy="588.3" r="2.8" fill="#1d1d1b"/>
<ellipse cx="1268.9" cy="636.3" rx="10.6" ry="15.6" fill="#f0c0a0" stroke="#1d1d1b" stroke-width="5.4" transform="rotate(-6 1268.9 636.3)"/>
</g>
<path d="M106.5,708.6 H1499.5" fill="none" stroke="#1d1d1b" stroke-width="5" stroke-linecap="round"/>
<g id="scene3b">
<path d="M855.2,641.6 L921.1,614.1 L1002.6,637.6 L937.5,665.9 Z" fill="#dcb98a" stroke="#1d1d1b" stroke-width="5" stroke-linejoin="round" stroke-linecap="round" />
<path d="M855.2,641.6 L937.5,665.9 L938.3,730.2 L855.2,706.6 Z" fill="#d9b584" stroke="#1d1d1b" stroke-width="5" stroke-linejoin="round" stroke-linecap="round" />
<path d="M937.5,665.9 L1002.6,637.6 V701 L938.3,730.2 Z" fill="#d6b080" stroke="#1d1d1b" stroke-width="5" stroke-linejoin="round" stroke-linecap="round" />
<path d="M888.2,627.8 L900.9,622.6 L978,648.2 L965.7,653.6 Z" fill="#f2e5c3" stroke="none" stroke-width="0" stroke-linejoin="round" stroke-linecap="round" />
<path d="M901.6,622.9 L977.6,648.1" fill="none" stroke="#1d1d1b" stroke-width="5.2" stroke-linecap="round"/>
<path d="M888.8,628 L965.4,653.5" fill="none" stroke="#1d1d1b" stroke-width="4.8" stroke-linecap="round"/>
<path d="M964.4,655.4 V671.6 L980.8,665.2 V648.4 Z" fill="#1d1d1b" stroke="#1d1d1b" stroke-width="3" stroke-linejoin="round" stroke-linecap="round" />
<path d="M968.3,657.2 L976.9,653.6 V663 L968.3,666.6 Z" fill="#f2e5c3" stroke="none" stroke-width="0" stroke-linejoin="round" stroke-linecap="round" />
<path d="M1033.5,632.0 C1033.7,634.8 1036.5,643.6 1034.5,648.7 C1032.5,653.8 1025.9,659.0 1021.4,662.8 C1016.9,666.6 1010.6,669.8 1007.3,671.5 C1004.0,673.2 1004.2,672.8 1001.8,672.9 C999.4,673.0 995.9,672.2 993.0,672.4 C990.1,672.6 986.2,673.3 984.6,674.3 C983.0,675.3 981.9,677.3 983.2,678.4 C984.5,679.5 990.9,680.4 992.4,680.8 C990.6,681.4 984.1,682.8 981.4,684.7 C978.6,686.7 976.4,689.6 975.9,692.5 C975.4,695.4 976.1,699.7 978.3,701.9 C980.5,704.1 985.4,705.6 989.3,705.9 C993.2,706.2 997.5,705.5 1001.8,703.5 C1006.1,701.5 1010.3,698.4 1015.0,694.1 C1019.7,689.9 1025.6,682.5 1030.0,678.0 C1034.4,673.5 1037.9,669.8 1041.6,666.8 C1045.3,663.8 1048.8,662.7 1052.0,660.0 C1055.2,657.3 1059.1,655.4 1060.7,650.7 C1062.3,646.0 1061.5,635.1 1061.7,632.0 L1033.5,632.0 Z" fill="#f5c9b1" stroke="#1d1d1b" stroke-width="4.8" stroke-linejoin="round" stroke-linecap="round" />
<path d="M1032.9,673.9 L1086.1,649.4 L1136.4,663.4 L1084,688.6 Z" fill="#dcb98a" stroke="#1d1d1b" stroke-width="5" stroke-linejoin="round" stroke-linecap="round" />
<path d="M1032.9,673.9 L1084,688.6 V734 L1032.9,719.3 Z" fill="#d9b584" stroke="#1d1d1b" stroke-width="5" stroke-linejoin="round" stroke-linecap="round" />
<path d="M1084,688.6 L1136.4,663.4 V709.6 L1084,734 Z" fill="#d6b080" stroke="#1d1d1b" stroke-width="5" stroke-linejoin="round" stroke-linecap="round" />
<path d="M1104.9,656.4 L1060.5,679.6" fill="none" stroke="#1d1d1b" stroke-width="6" stroke-linecap="round"/>
<path d="M1049,680 V692.8 L1063.7,696.5 V682.8 Z" fill="#1d1d1b" stroke="#1d1d1b" stroke-width="3.4" stroke-linejoin="round" stroke-linecap="round" />
<path d="M1053.9,683.2 L1060.2,684.6 V691.4 L1053.9,690 Z" fill="#f2e5c3" stroke="none" stroke-width="0" stroke-linejoin="round" stroke-linecap="round" />
</g>
<g id="labels" class="lbl" font-size="46" fill="#1b1b1b" text-anchor="middle">
<text transform="translate(232.5,800) scale(0.885,1)"><tspan textLength="88" lengthAdjust="spacingAndGlyphs" stroke="#1b1b1b" stroke-width="1.3" stroke-linejoin="round">CSV</tspan>出力</text>
<text transform="translate(604,800) scale(0.885,1)">クリックポスト</text>
<text transform="translate(605,852) scale(0.885,1)">決済</text>
<text transform="translate(985,800) scale(0.878,1)">梱包・ラベル貼り</text>
<text transform="translate(1360.5,800) scale(0.878,1)">追跡番号更新</text>
</g>
</svg>
</body>
</html>
